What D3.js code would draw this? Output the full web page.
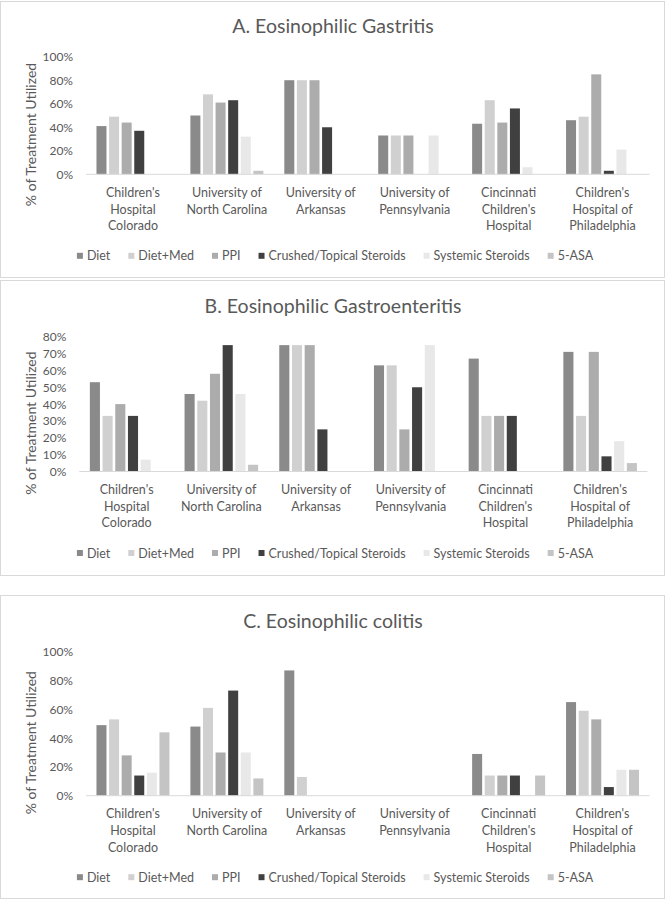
<!DOCTYPE html>
<html><head><meta charset="utf-8">
<script src="https://cdn.jsdelivr.net/npm/d3@7"></script>
<style>
body{margin:0;background:#fff}
svg{display:block;font-family:Lato,"Open Sans",sans-serif}
</style>
</head><body>
<svg id="c" width="666" height="900"></svg>
<script>
const categories = ["Children's Hospital Colorado","University of North Carolina","University of Arkansas","University of Pennsylvania","Cincinnati Children's Hospital","Children's Hospital of Philadelphia"];
const categoryLines = [["Children's","Hospital","Colorado"],["University of","North Carolina"],["University of","Arkansas"],["University of","Pennsylvania"],["Cincinnati","Children's","Hospital"],["Children's","Hospital of","Philadelphia"]];
const seriesNames = ["Diet","Diet+Med","PPI","Crushed/Topical Steroids","Systemic Steroids","5-ASA"];
const seriesColors = ["#8a8a8a","#d0d0d0","#acacac","#404040","#e8e8e8","#c4c4c4"];
const panelTitles = ["A. Eosinophilic Gastritis","B. Eosinophilic Gastroenteritis","C. Eosinophilic colitis"];

// values in % (rows = categories, columns = series)
const gastritisValues = [
  [41,49,44,37,0,0],
  [50,68,61,63,32,3],
  [80,80,80,40,0,0],
  [33,33,33,0,33,0],
  [43,63,44,56,6,0],
  [46,49,85,3,21,0]];
const gastroenteritisValues = [
  [53,33,40,33,7,0],
  [46,42,58,75,46,4],
  [75,75,75,25,0,0],
  [63,63,25,50,75,0],
  [67,33,33,33,0,0],
  [71,33,71,9,18,5]];
const colitisValues = [
  [49,53,28,14,16,44],
  [48,61,30,73,30,12],
  [87,13,0,0,0,0],
  [0,0,0,0,0,0],
  [29,14,14,14,0,14],
  [65,59,53,6,18,18]];
const ticksA = [0,20,40,60,80,100];
const ticksB = [0,10,20,30,40,50,60,70,80];
const ticksC = [0,20,40,60,80,100];

const panelData = [gastritisValues, gastroenteritisValues, colitisValues];
const panelTicks = [ticksA, ticksB, ticksC];
const layout = [
  {y:1,   h:276, plotTop:55.7, plotH:117.6, x0:86,   x1:649.5},
  {y:280, h:295, plotTop:56.7, plotH:134.8, x0:79.3, x1:647.5},
  {y:595, h:303, plotTop:56.7, plotH:144,   x0:86,   x1:649.5}
];
const textColor = "#595959";
const svg = d3.select("#c");

panelData.forEach((vals, pi) => {
  const L = layout[pi];
  const ticks = panelTicks[pi];
  const g = svg.append("g").attr("transform", `translate(0,${L.y})`);
  g.append("rect").attr("x",0.5).attr("y",0.5).attr("width",664).attr("height",L.h)
    .attr("fill","#fff").attr("stroke","#d9d9d9").attr("stroke-width",1);

  g.append("text").attr("x",333).attr("y",L.plotTop-31).attr("text-anchor","middle")
    .attr("dominant-baseline","central").attr("font-size",19.5).attr("fill",textColor)
    .text(panelTitles[pi]);

  const yBottom = L.plotTop + L.plotH;
  const y = d3.scaleLinear().domain([0, d3.max(ticks)]).range([yBottom, L.plotTop]);
  const x = d3.scaleBand().domain(categories).range([L.x0, L.x1]).paddingInner(0.223).paddingOuter(0.1115);
  const xs = d3.scaleBand().domain(seriesNames).range([0, x.bandwidth()]).paddingInner(0.206);

  // y tick labels
  g.selectAll(".yt").data(ticks).join("text")
    .attr("x", L.x0-13).attr("y", d => y(d)).attr("text-anchor","end")
    .attr("dominant-baseline","central").attr("font-size",12).attr("fill",textColor)
    .text(d => d + "%");

  // y axis title
  g.append("text").attr("transform",`translate(30,${(L.plotTop+yBottom)/2+19}) rotate(-90)`)
    .attr("text-anchor","middle").attr("dominant-baseline","central")
    .attr("font-size",14).attr("fill",textColor).text("% of Treatment Utilized");

  // bars
  categories.forEach((c, ci) => {
    g.append("g").attr("transform",`translate(${x(c)},0)`)
      .selectAll("rect").data(seriesNames.map((s, si) => ({s, v: vals[ci][si], si})).filter(d => d.v > 0))
      .join("rect")
      .attr("x", d => xs(d.s)).attr("width", xs.bandwidth())
      .attr("y", d => y(d.v)).attr("height", d => yBottom - y(d.v))
      .attr("fill", d => seriesColors[d.si]);
  });

  // axis line
  g.append("line").attr("x1",L.x0).attr("x2",L.x1).attr("y1",yBottom).attr("y2",yBottom)
    .attr("stroke","#d9d9d9").attr("stroke-width",1);

  // category labels
  categories.forEach((c, ci) => {
    const t = g.append("text").attr("text-anchor","middle").attr("font-size",12.5).attr("fill",textColor);
    categoryLines[ci].forEach((ln, li) => {
      t.append("tspan").attr("x", x(c)+x.bandwidth()/2).attr("y", yBottom+18+li*16.7)
        .attr("dominant-baseline","central").text(ln);
    });
  });

  // legend
  const lg = g.append("g");
  const ly = yBottom + 81.5;
  let cx = 0;
  seriesNames.forEach((s, si) => {
    const it = lg.append("g");
    it.append("rect").attr("x",0).attr("y",ly-3).attr("width",6).attr("height",6).attr("fill",seriesColors[si]);
    const tx = it.append("text").attr("x",10).attr("y",ly).attr("dominant-baseline","central")
      .attr("font-size",12.5).attr("fill",textColor).text(s);
    const w = 10 + tx.node().getComputedTextLength();
    it.attr("transform",`translate(${cx},0)`);
    cx += w + 18;
  });
  const total = cx - 18;
  lg.attr("transform",`translate(${335 - total/2},0)`);
});
</script>
</body></html>
